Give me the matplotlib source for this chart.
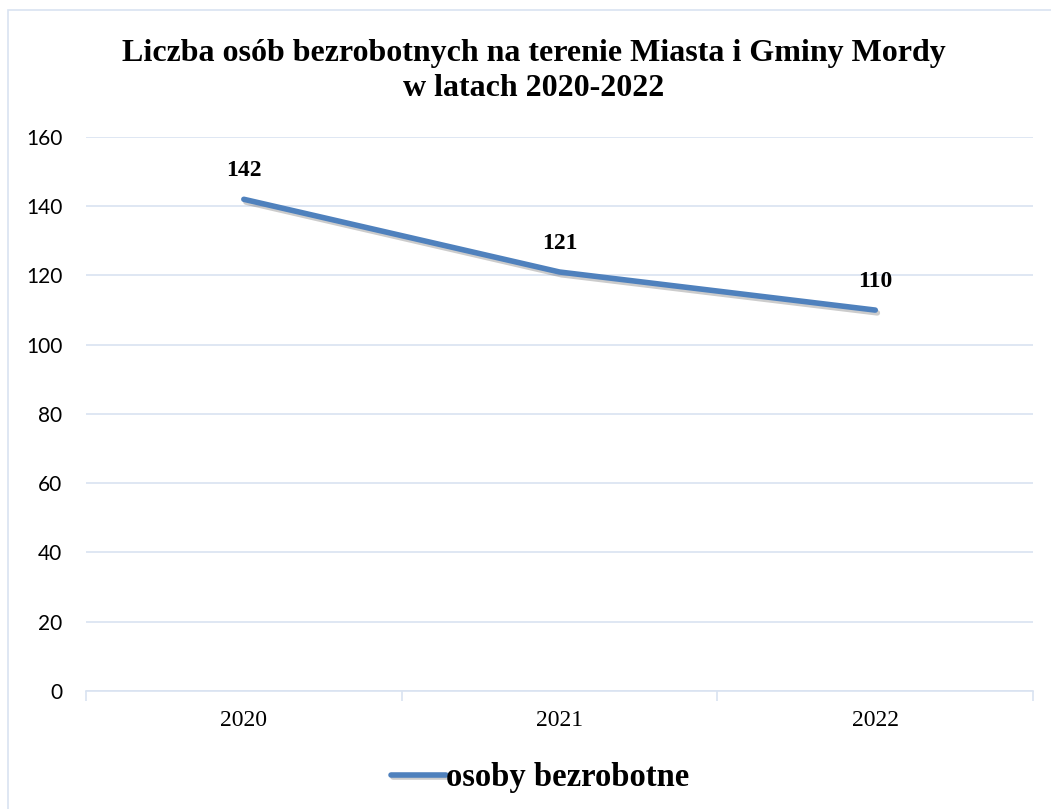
import matplotlib
matplotlib.use("Agg")
import matplotlib.pyplot as plt
import matplotlib.patheffects as pe
from matplotlib.patches import Rectangle

# data
years = ["2020", "2021", "2022"]
unemployed = [142, 121, 110]
y_ticks = [0, 20, 40, 60, 80, 100, 120, 140, 160]

LINE_COLOR = "#4F81BD"
GRID_COLOR = "#D9E3F1"
SERIF = ["Liberation Serif", "DejaVu Serif"]

fig = plt.figure(figsize=(10.51, 8.09), dpi=100)
ax = fig.add_axes([0.0818, 0.1459, 0.9012, 0.6848])

# outer chart border
fig.patches.append(Rectangle((8 / 1051, -0.01), 1.1, 1 - 10 / 809 + 0.01,
                             transform=fig.transFigure, fill=False,
                             edgecolor=GRID_COLOR, linewidth=1.2))

x = list(range(len(years)))
ax.plot(x, unemployed, color=LINE_COLOR, linewidth=4.0, solid_capstyle="round",
        path_effects=[pe.SimpleLineShadow(offset=(1.5, -2), alpha=0.2),
                      pe.Normal()])

for xi, v in zip(x, unemployed):
    ax.annotate(str(v), (xi, v), xytext=(0, 13), textcoords="offset points",
                ha="center", va="bottom", fontsize=17, fontweight="bold",
                family=SERIF)

ax.set_xlim(-0.5, len(years) - 0.5)
ax.set_ylim(0, 160)
ax.set_yticks(y_ticks)
ax.set_yticklabels([str(t) for t in y_ticks], fontsize=15,
                   family=["Lato", "DejaVu Sans"])
ax.set_xticks(x)
ax.set_xticklabels(years, fontsize=17, family=SERIF)
ax.set_xticks([i + 0.5 for i in range(-1, len(years))], minor=True)
ax.tick_params(axis="x", which="major", length=0, pad=14)
ax.tick_params(axis="x", which="minor", length=7, color=GRID_COLOR, width=1.2)
ax.tick_params(axis="y", length=0, pad=17)

ax.grid(axis="y", color=GRID_COLOR, linewidth=1.2)
ax.set_axisbelow(True)
for side in ["top", "right", "left"]:
    ax.spines[side].set_visible(False)
ax.spines["bottom"].set_color(GRID_COLOR)
ax.spines["bottom"].set_linewidth(1.2)

fig.text(0.5076, 0.9125, "Liczba osób bezrobotnych na terenie Miasta i Gminy Mordy\nw latach 2020-2022",
         ha="center", va="center", fontsize=23, fontweight="bold",
         family=SERIF, linespacing=1.25)

leg = fig.legend([ax.lines[0]], ["osoby bezrobotne"], loc="center",
                 bbox_to_anchor=(0.514, 0.039), frameon=False, handlelength=1.7,
                 handletextpad=0.0,
                 prop={"family": SERIF, "size": 23.5, "weight": "bold"})

fig.savefig("out.png", dpi=100)
